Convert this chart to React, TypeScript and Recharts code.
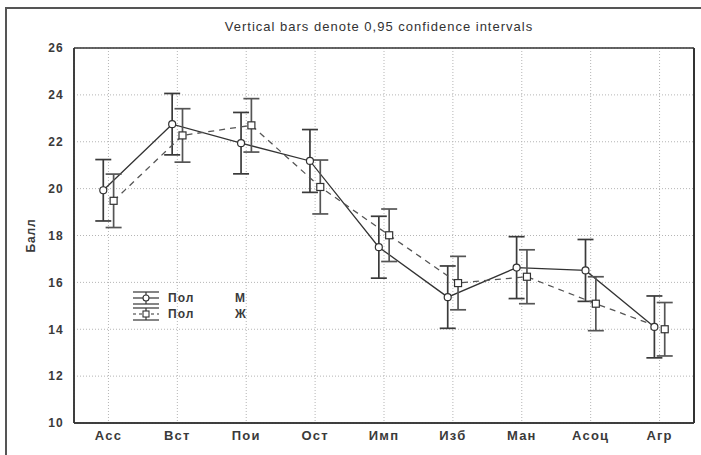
import React from 'react';
import { LineChart, Line, XAxis, YAxis, CartesianGrid, ErrorBar } from 'recharts';

// categories on the x axis
const categories = ['Асс', 'Вст', 'Пои', 'Ост', 'Имп', 'Изб', 'Ман', 'Асоц', 'Агр'];

// group М (solid line, circles)
const maleMeans = [19.93, 22.75, 21.94, 21.18, 17.5, 15.37, 16.63, 16.51, 14.1];
const maleCi = [1.31, 1.31, 1.31, 1.34, 1.32, 1.33, 1.32, 1.32, 1.32];

// group Ж (dashed line, squares)
const femaleMeans = [19.48, 22.27, 22.7, 20.07, 18.01, 15.97, 16.24, 15.09, 14.0];
const femaleCi = [1.14, 1.14, 1.14, 1.15, 1.12, 1.14, 1.15, 1.15, 1.14];

const yTicks = [10, 12, 14, 16, 18, 20, 22, 24, 26];
const legendFactor = 'Пол';
const legendLevels = ['М', 'Ж'];

const FONT = '"Liberation Sans", Arial, sans-serif';
const INK = '#333';
const DODGE = 0.075; // small horizontal offset so the two groups don't overlap

const xTicks = categories.map((_, i) => i);
const maleData = categories.map((name, i) => ({ x: i - DODGE, name, mean: maleMeans[i], ci: maleCi[i] }));
const femaleData = categories.map((name, i) => ({ x: i + DODGE, name, mean: femaleMeans[i], ci: femaleCi[i] }));

const renderCircle = (props: any) => {
  const { cx, cy, index } = props;
  if (cx == null || cy == null) return <g key={`c-${index}`} />;
  return <circle key={`c-${index}`} cx={cx} cy={cy} r={3.5} fill="#fff" stroke={INK} strokeWidth={1.2} />;
};

const renderSquare = (props: any) => {
  const { cx, cy, index } = props;
  if (cx == null || cy == null) return <g key={`s-${index}`} />;
  return <rect key={`s-${index}`} x={cx - 3.5} y={cy - 3.5} width={7} height={7} fill="#fff" stroke={INK} strokeWidth={1.2} />;
};

const LegendSymbol = ({ dashed }: { dashed: boolean }) => (
  <svg width={30} height={16} style={{ display: 'block' }}>
    <line x1={2} x2={28} y1={2} y2={2} stroke={INK} strokeWidth={1.2} />
    <line x1={2} x2={28} y1={14} y2={14} stroke={INK} strokeWidth={1.2} />
    <line x1={15} x2={15} y1={2} y2={14} stroke={INK} strokeWidth={1.2} />
    <line x1={2} x2={28} y1={8} y2={8} stroke={INK} strokeWidth={1.2} strokeDasharray={dashed ? '3 3' : undefined} />
    {dashed ? (
      <rect x={12} y={5} width={6} height={6} fill="#fff" stroke={INK} strokeWidth={1.1} />
    ) : (
      <circle cx={15} cy={8} r={3} fill="#fff" stroke={INK} strokeWidth={1.1} />
    )}
  </svg>
);

export default function App() {
  const xTickStyle = { fontSize: 13, fill: '#3a3a3a', fontFamily: FONT, fontWeight: 700, letterSpacing: 1.2 };
  const yTickStyle = { fontSize: 12, fill: '#3a3a3a', fontFamily: FONT, fontWeight: 700, letterSpacing: 1.2 };
  return (
    <div style={{ position: 'absolute', left: 0, top: 0, width: 701, height: 455, background: '#fff', overflow: 'hidden' }}>
      {/* outer frame, runs off the right and bottom edges */}
      <div style={{ position: 'absolute', left: 5, top: 7, width: 720, height: 470, border: '2px solid #555', boxSizing: 'border-box' }} />
      <div style={{ position: 'absolute', left: 0, width: 758, top: 19, textAlign: 'center', fontFamily: FONT, fontSize: 13, letterSpacing: 1, color: INK }}>
        Vertical bars denote 0,95 confidence intervals
      </div>
      <LineChart width={701} height={455} margin={{ top: 48, right: 7, bottom: 2, left: 4 }} style={{ position: 'absolute', left: 0, top: 0 }}>
        <CartesianGrid xAxisId="x" yAxisId="y" stroke="#b5b5b5" strokeDasharray="1 2" />
        <XAxis
          xAxisId="x"
          type="number"
          dataKey="x"
          domain={[-0.5, 8.5]}
          ticks={xTicks}
          interval={0}
          allowDataOverflow
          tickFormatter={(v: number) => categories[Math.round(v)] ?? ''}
          tickLine={false}
          tickSize={0}
          tickMargin={8}
          height={30}
          axisLine={{ stroke: INK, strokeWidth: 1.5 }}
          tick={xTickStyle}
        />
        <XAxis xAxisId="xb" type="number" domain={[-0.5, 8.5]} ticks={xTicks} interval={0} allowDataOverflow mirror tick={false} tickSize={4} tickLine={{ stroke: INK, strokeWidth: 1.5 }} axisLine={{ stroke: INK, strokeWidth: 1.5 }} />
        <XAxis xAxisId="xt" orientation="top" type="number" domain={[-0.5, 8.5]} ticks={xTicks} interval={0} allowDataOverflow mirror tick={false} tickSize={4} tickLine={{ stroke: INK, strokeWidth: 1.5 }} axisLine={{ stroke: INK, strokeWidth: 1.5 }} />
        <YAxis
          yAxisId="y"
          type="number"
          domain={[10, 26]}
          ticks={yTicks}
          interval={0}
          allowDataOverflow
          width={70}
          tickLine={false}
          tickSize={0}
          tickMargin={10}
          axisLine={{ stroke: INK, strokeWidth: 1.5 }}
          tick={yTickStyle}
          label={{ value: 'Балл', angle: -90, position: 'insideLeft', offset: 27, style: { textAnchor: 'middle', fontSize: 12, fontWeight: 700, letterSpacing: 0.8, fill: '#3a3a3a', fontFamily: FONT } }}
        />
        <YAxis yAxisId="yl" type="number" domain={[10, 26]} ticks={yTicks} interval={0} allowDataOverflow mirror tick={false} tickSize={4} tickLine={{ stroke: INK, strokeWidth: 1.5 }} axisLine={{ stroke: INK, strokeWidth: 1.5 }} />
        <YAxis yAxisId="yr" orientation="right" type="number" domain={[10, 26]} ticks={yTicks} interval={0} allowDataOverflow mirror tick={false} tickSize={4} tickLine={{ stroke: INK, strokeWidth: 1.5 }} axisLine={{ stroke: INK, strokeWidth: 2 }} />
        <Line
          xAxisId="x"
          yAxisId="y"
          data={maleData}
          dataKey="mean"
          stroke={INK}
          strokeWidth={1.3}
          dot={renderCircle}
          activeDot={false}
          isAnimationActive={false}
        >
          <ErrorBar dataKey="ci" direction="y" width={8} stroke="#3a3a3a" strokeWidth={1.7} isAnimationActive={false} />
        </Line>
        <Line
          xAxisId="x"
          yAxisId="y"
          data={femaleData}
          dataKey="mean"
          stroke="#555"
          strokeWidth={1.3}
          strokeDasharray="6 5"
          dot={renderSquare}
          activeDot={false}
          isAnimationActive={false}
        >
          <ErrorBar dataKey="ci" direction="y" width={8} stroke="#555" strokeWidth={1.7} isAnimationActive={false} />
        </Line>
      </LineChart>
      {/* legend inside the plot */}
      <div style={{ position: 'absolute', left: 131, top: 290, fontFamily: FONT, fontSize: 12, fontWeight: 700, letterSpacing: 1, color: '#3a3a3a' }}>
        {legendLevels.map((level, i) => (
          <div key={level} style={{ display: 'flex', alignItems: 'center', height: 16 }}>
            <LegendSymbol dashed={i === 1} />
            <span style={{ marginLeft: 7, width: 67 }}>{legendFactor}</span>
            <span>{level}</span>
          </div>
        ))}
      </div>
    </div>
  );
}
